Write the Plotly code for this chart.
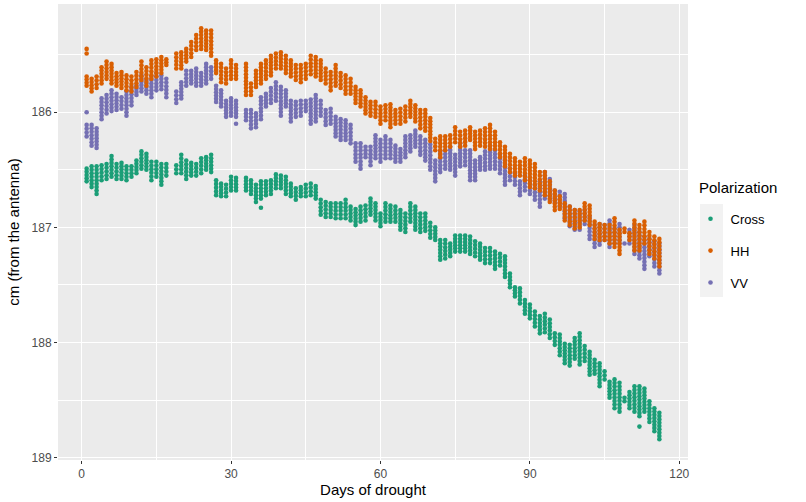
import numpy as np
import plotly.graph_objects as go

# ---------------- data ----------------
days = [1,2,3,4,5,6,7,8,9,10,11,12,13,14,15,16,17,19,20,21,22,23,24,25,26,27,28,29,30,31,
        33,34,35,36,37,38,39,40,41,42,43,44,45,46,47,48,49,50,51,52,53,54,55,56,57,58,59,60,
        61,62,63,64,65,66,67,68,69,70,71,72,73,74,75,76,77,78,79,80,81,82,83,84,85,86,87,88,
        89,90,91,92,93,94,95,96,97,98,99,100,101,102,103,104,105,106,107,108,109,110,111,112,
        113,114,115,116]

# per-day extent (top / bottom of each day's column), cm from the antenna
cross_lo = [186.49,186.47,186.47,186.46,186.45,186.38,186.45,186.44,186.47,186.47,186.42,186.34,186.36,186.43,186.43,186.45,186.45,
            186.46,186.37,186.42,186.44,186.45,186.40,186.39,186.37,186.59,186.62,186.63,186.56,186.57,
            186.57,186.59,186.63,186.60,186.60,186.59,186.54,186.55,186.56,186.62,186.66,186.65,186.63,186.62,186.64,186.76,186.78,186.79,
            186.79,186.79,186.76,186.82,186.84,186.82,186.81,186.75,186.79,186.88,186.79,186.81,186.82,186.85,186.88,186.79,186.82,186.88,
            186.88,186.96,187.00,187.11,187.11,187.14,187.07,187.07,187.07,187.08,187.12,187.14,187.18,187.18,187.21,187.23,187.25,187.40,
            187.52,187.53,187.63,187.67,187.73,187.77,187.75,187.80,187.92,187.93,188.01,188.02,187.96,187.92,188.03,188.08,188.15,188.18,
            188.25,188.34,188.32,188.35,188.48,188.43,188.38,188.38,188.40,188.51,188.57,188.61]
cross_hi = [186.60,186.65,186.71,186.59,186.58,186.56,186.58,186.58,186.59,186.56,186.53,186.49,186.50,186.59,186.56,186.63,186.55,
            186.53,186.53,186.58,186.55,186.55,186.53,186.50,186.52,186.72,186.73,186.73,186.68,186.68,
            186.68,186.71,186.78,186.75,186.72,186.71,186.66,186.66,186.71,186.73,186.76,186.73,186.73,186.72,186.75,186.89,186.91,186.91,
            186.92,186.92,186.92,186.94,186.98,186.95,186.94,186.89,186.94,186.99,186.95,186.95,186.95,187.02,187.04,186.95,187.02,187.04,
            187.03,187.09,187.11,187.28,187.27,187.25,187.21,187.21,187.21,187.23,187.25,187.28,187.31,187.31,187.36,187.33,187.43,187.52,
            187.60,187.66,187.75,187.79,187.86,187.92,187.91,187.96,188.02,188.11,188.18,188.20,188.14,188.19,188.16,188.28,188.27,188.38,
            188.32,188.48,188.57,188.60,188.51,188.57,188.60,188.64,188.60,188.69,188.77,188.84]

hh_lo = [185.69,185.71,185.69,185.61,185.56,185.58,185.66,185.65,185.68,185.69,185.65,185.56,185.61,185.55,185.54,185.52,185.54,
         185.49,185.48,185.45,185.39,185.33,185.27,185.29,185.29,185.55,185.58,185.62,185.55,185.59,
         185.58,185.75,185.64,185.58,185.55,185.51,185.49,185.48,185.51,185.55,185.59,185.59,185.58,185.51,185.52,185.55,185.62,185.65,
         185.59,185.66,185.68,185.71,185.78,185.81,185.87,185.91,185.91,185.95,185.94,185.93,185.98,185.97,185.95,185.90,185.94,185.98,
         185.98,186.05,186.23,186.21,186.21,186.20,186.13,186.17,186.16,186.13,186.17,186.16,186.14,186.11,186.17,186.26,186.30,186.36,
         186.40,186.43,186.40,186.42,186.45,186.52,186.52,186.60,186.68,186.73,186.79,186.82,186.85,186.85,186.79,186.81,186.95,186.97,
         186.98,186.98,186.92,187.02,187.01,187.05,186.94,186.98,186.95,187.04,187.08,187.10]
hh_hi = [185.77,185.82,185.79,185.75,185.71,185.75,185.77,185.79,185.81,185.82,185.78,185.72,185.77,185.71,185.69,185.66,185.59,
         185.62,185.62,185.56,185.52,185.46,185.45,185.46,185.51,185.66,185.74,185.75,185.71,185.71,
         185.85,185.85,185.78,185.75,185.71,185.68,185.62,185.62,185.66,185.69,185.72,185.74,185.71,185.67,185.69,185.72,185.75,185.81,
         185.77,185.79,185.84,185.84,185.92,185.95,186.01,186.03,186.04,186.10,186.07,186.13,186.10,186.10,186.08,186.04,186.08,186.14,
         186.16,186.25,186.33,186.39,186.33,186.30,186.26,186.30,186.29,186.24,186.32,186.29,186.30,186.32,186.32,186.39,186.47,186.52,
         186.55,186.55,186.59,186.65,186.66,186.68,186.72,186.78,186.85,186.84,186.94,186.98,187.01,187.00,186.94,186.98,187.10,187.11,
         187.11,187.14,187.17,187.23,187.04,187.11,187.20,187.20,187.14,187.23,187.27,187.34]

vv_lo = [186.11,186.11,186.14,185.88,185.85,185.81,185.84,185.87,185.82,185.78,185.77,185.68,185.72,185.69,185.66,185.68,185.71,
         185.82,185.74,185.64,185.64,185.62,185.66,185.58,185.61,185.77,185.81,185.90,185.88,185.90,
         185.98,185.98,186.01,185.87,185.84,185.79,185.74,185.78,185.81,185.90,185.91,185.90,185.90,185.89,185.85,185.90,185.98,185.97,
         186.04,186.06,186.07,186.11,186.27,186.27,186.30,186.30,186.20,186.24,186.21,186.24,186.29,186.32,186.21,186.20,186.16,186.21,
         186.24,186.28,186.42,186.34,186.33,186.30,186.37,186.27,186.33,186.33,186.42,186.39,186.34,186.29,186.33,186.37,186.42,186.49,
         186.53,186.60,186.55,186.59,186.63,186.60,186.52,186.58,186.68,186.69,186.71,186.82,186.85,186.86,186.85,186.91,186.98,186.97,
         186.98,186.94,187.01,186.97,187.14,187.02,186.98,187.04,187.08,187.10,187.12,187.14]
vv_hi = [186.21,186.29,186.31,186.06,186.01,185.99,185.98,185.97,186.03,185.94,185.85,185.82,185.84,185.87,185.81,185.80,185.87,
         185.92,185.88,185.77,185.75,185.77,185.77,185.75,185.71,185.91,185.95,186.04,186.03,186.04,
         186.07,186.14,186.13,186.06,185.95,185.92,185.90,186.03,185.95,186.08,186.04,186.03,185.99,186.10,186.08,186.03,186.11,186.10,
         186.21,186.24,186.24,186.27,186.43,186.49,186.39,186.46,186.40,186.43,186.40,186.40,186.43,186.43,186.39,186.34,186.30,186.37,
         186.42,186.50,186.60,186.52,186.49,186.50,186.55,186.47,186.46,186.59,186.59,186.50,186.50,186.49,186.49,186.53,186.63,186.59,
         186.63,186.72,186.68,186.71,186.76,186.82,186.75,186.76,186.78,186.82,186.92,186.99,187.02,187.02,186.97,187.10,187.17,187.15,
         187.11,187.17,187.14,187.14,187.14,187.14,187.23,187.27,187.36,187.25,187.34,187.40]

# isolated points away from the columns
cross_extra_days = [36, 112]
cross_extra_vals = [186.83, 188.73]
hh_extra_days = [1, 1]
hh_extra_vals = [185.45, 185.49]
vv_extra_days = [1, 31]
vv_extra_vals = [186.00, 186.10]

legend_names = ["Cross", "HH", "VV"]
colors = ["#1B9E77", "#D95F02", "#7570B3"]

series = {
    "Cross": (cross_lo, cross_hi, cross_extra_days, cross_extra_vals),
    "HH": (hh_lo, hh_hi, hh_extra_days, hh_extra_vals),
    "VV": (vv_lo, vv_hi, vv_extra_days, vv_extra_vals),
}

STEP = 0.03  # spacing of the stacked observations within one day's column


def column_points(lo_list, hi_list, xd, xv):
    xs, ys = [], []
    for d, lo, hi in zip(days, lo_list, hi_list):
        n = max(1, int(round((hi - lo) / STEP)) + 1)
        vals = np.linspace(lo, hi, n)
        xs.extend([d] * n)
        ys.extend(vals.tolist())
    xs.extend(xd)
    ys.extend(xv)
    return xs, ys


fig = go.Figure()
draw_order = ["Cross", "VV", "HH"]
for name in draw_order:
    lo, hi, xd, xv = series[name]
    idx = legend_names.index(name)
    xs, ys = column_points(lo, hi, xd, xv)
    fig.add_trace(go.Scatter(
        x=xs, y=ys, mode="markers", name=name, legendgroup=name, legendrank=idx + 1,
        marker=dict(color=colors[idx], size=4.6, line=dict(width=0)),
    ))

FONT = "Liberation Sans, Arial, sans-serif"

fig.update_layout(
    width=806, height=502,
    margin=dict(l=58, r=118, t=4, b=42),
    paper_bgcolor="white",
    plot_bgcolor="#EBEBEB",
    font=dict(family=FONT, color="#000000"),
    showlegend=True,
    legend=dict(
        font=dict(size=13, color="#000000"),
        x=1.004, xanchor="left", y=0.562, yanchor="top",
        bgcolor="rgba(0,0,0,0)", tracegroupgap=12, itemwidth=30,
        traceorder="grouped",
    ),
    shapes=[dict(type="rect", xref="paper", yref="paper",
                 x0=1.019, x1=1.0556, y0=0.3575, y1=0.5614,
                 fillcolor="#F2F2F2", line=dict(width=0), layer="below")],
    annotations=[dict(text="Polarization", xref="paper", yref="paper",
                      x=(697 - 58) / 630, y=1 - (188 - 4) / 456,
                      xanchor="left", yanchor="middle", showarrow=False,
                      font=dict(size=15, color="#000000"))],
    xaxis=dict(
        range=[-4.75, 121.75], tickmode="linear", tick0=0, dtick=30,
        ticks="outside", ticklen=3, tickcolor="#333333", tickwidth=1,
        tickfont=dict(size=12, color="#4D4D4D"),
        showgrid=True, gridcolor="white", gridwidth=1.1, zeroline=False, showline=False,
        minor=dict(tickmode="linear", tick0=15, dtick=30, showgrid=True, gridcolor="white", gridwidth=0.5, ticks=""),
        title=dict(text="Days of drought", font=dict(size=15, color="#000000"), standoff=4),
    ),
    yaxis=dict(
        range=[189.02, 185.06], tickmode="linear", tick0=186, dtick=1,
        ticks="outside", ticklen=3, tickcolor="#333333", tickwidth=1,
        tickfont=dict(size=12, color="#4D4D4D"),
        showgrid=True, gridcolor="white", gridwidth=1.1, zeroline=False, showline=False,
        minor=dict(tickmode="linear", tick0=185.5, dtick=1, showgrid=True, gridcolor="white", gridwidth=0.5, ticks=""),
        title=dict(text="cm (from the antenna)", font=dict(size=15, color="#000000"), standoff=8),
    ),
)

fig.write_html("out.html")
